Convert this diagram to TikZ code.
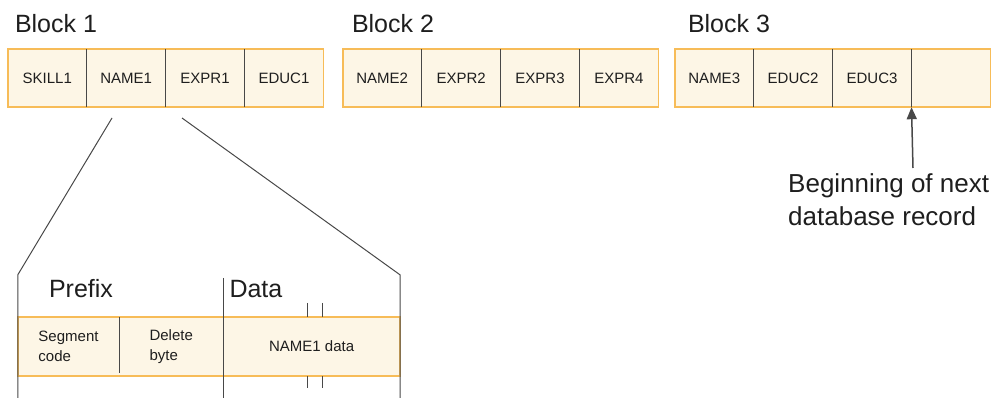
\documentclass[tikz,border=0pt]{standalone}
\usepackage{fontspec}
\setmainfont{Liberation Sans}
\usetikzlibrary{positioning,arrows.meta}
\definecolor{cellfill}{HTML}{FDF6E6}
\definecolor{celledge}{HTML}{F7BC58}
\definecolor{divider}{HTML}{484848}
\definecolor{ink}{HTML}{1E1E1E}

\begin{document}
\begin{tikzpicture}[x=1pt,y=-1pt,>={Triangle[length=12pt,width=10pt]},node distance=0pt,
  cell/.style={fill=cellfill,minimum width=78.5pt,minimum height=58pt,inner sep=0pt,font=\fontsize{15}{20}\selectfont,text=ink},
  field/.style={cell,minimum height=59pt,align=left},
  block label/.style={inner sep=0pt,anchor=south west,font=\fontsize{25}{33}\selectfont,text=ink},
  edge line/.style={draw=celledge,line width=1.5pt},
  sep line/.style={draw=divider,line width=1.3pt},
  zoom line/.style={draw=divider,line width=1pt}]
            \useasboundingbox (0,0) rectangle (991,398);

            \node[cell] (s1) at (47.25,78) {SKILL1};
            \node[cell] (n1) [right=of s1] {NAME1};
            \node[cell] (e1) [right=of n1] {EXPR1};
            \node[cell] (d1) [right=of e1] {EDUC1};

            \node[cell] (n2) at (382.25,78) {NAME2};
            \node[cell] (e2) [right=of n2] {EXPR2};
            \node[cell] (e3) [right=of e2] {EXPR3};
            \node[cell] (e4) [right=of e3] {EXPR4};

            \node[cell] (n3) at (714.25,78) {NAME3};
            \node[cell] (d2) [right=of n3] {EDUC2};
            \node[cell] (d3) [right=of d2] {EDUC3};
            \node[cell] (x3) [right=of d3] {};

            \node[block label] (b1) [above right=16pt and 7pt of s1.north west] {Block 1};
            \node[block label] (b2) [above right=16pt and 9pt of n2.north west] {Block 2};
            \node[block label] (b3) [above right=16pt and 13pt of n3.north west] {Block 3};

            \draw[edge line] (s1.north west) rectangle (d1.south east);
            \draw[edge line] (n2.north west) rectangle (e4.south east);
            \draw[edge line] (n3.north west) rectangle (x3.south east);
            \foreach \c in {s1,n1,e1,n2,e2,e3,n3,d2,d3}
                \draw[sep line] (\c.north east) -- (\c.south east);

            \node[block label,anchor=north west,align=left,font=\fontsize{26}{33}\selectfont] (nxt) at (788,173) {Beginning of next\\database record};
            \coordinate (foot) at (913,168);
            \draw[->,sep line,line width=1.5pt] (foot) -- (d3.south east);

            \node[field,minimum width=101pt] (seg) at (68.5,346.5) {Segment\\code};
            \node[field,minimum width=103.7pt] (del) [right=of seg] {Delete\\byte};
            \node[field,minimum width=176.3pt] (dat) [right=of del] {NAME1 data};
            \draw[edge line] (seg.north west) rectangle (dat.south east);
            \draw[sep line] (seg.north east) -- ([yshift=3pt]seg.south east);

            \node[block label] (pre) [above right=19pt and 31pt of seg.north west] {Prefix};
            \node[block label] (data) [above right=19pt and 6pt of del.north east] {Data};

            \coordinate (zl) at (112,118);
            \coordinate (zr) at (182,118);
            \draw[zoom line] (zl) -- ([yshift=42pt]seg.north west) -- ([yshift=-22pt]seg.south west);
            \draw[zoom line] (zr) -- ([yshift=42pt]dat.north east) -- ([yshift=-22pt]dat.south east);
            \draw[zoom line] ([yshift=39pt]del.north east) -- ([yshift=-22pt]del.south east);

            \foreach \dx in {84,99} {
                \draw[zoom line] ([xshift=\dx pt,yshift=14pt]dat.north west) -- ([xshift=\dx pt]dat.north west);
                \draw[zoom line] ([xshift=\dx pt]dat.south west) -- ([xshift=\dx pt,yshift=-12pt]dat.south west);
            }
        \end{tikzpicture}
\end{document}
